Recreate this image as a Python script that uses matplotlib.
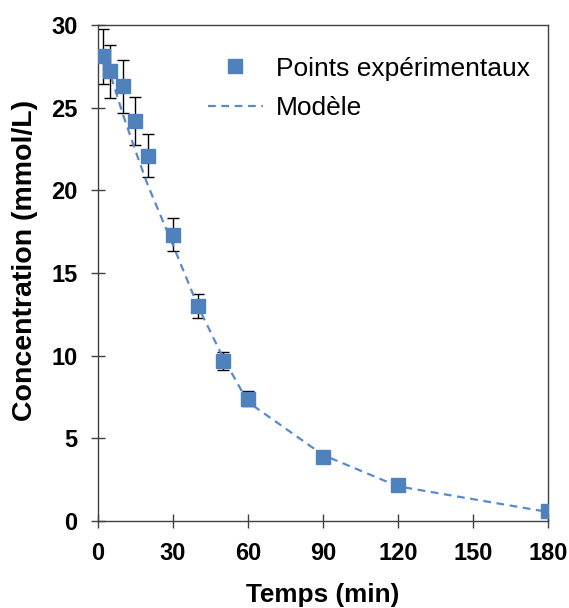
import matplotlib
matplotlib.use("Agg")
import matplotlib.pyplot as plt
import numpy as np

# temps (min) et concentrations mesurees (mmol/L)
temps = [2, 5, 10, 15, 20, 30, 40, 50, 60, 90, 120, 180]
conc = [28.1, 27.2, 26.3, 24.2, 22.1, 17.3, 13.0, 9.7, 7.4, 3.9, 2.2, 0.6]
erreur = [1.65, 1.6, 1.6, 1.45, 1.3, 1.0, 0.75, 0.55, 0.45, 0.3, 0.2, 0.1]
# valeurs du modele aux memes temps
modele = [28.4, 27.0, 24.6, 22.4, 20.3, 16.7, 13.0, 9.9, 7.2, 4.0, 2.1, 0.55]

xticks = [0, 30, 60, 90, 120, 150, 180]
yticks = [0, 5, 10, 15, 20, 25, 30]

bleu = "#4F81BD"
plt.rcParams["font.family"] = ["Liberation Sans", "DejaVu Sans"]

fig = plt.figure(figsize=(5.69, 6.08), dpi=100)
ax = fig.add_axes([0.172, 0.143, 0.791, 0.816])

#========================================================================================
ax.errorbar(temps, conc, yerr=erreur, fmt="none", ecolor="black",
            elinewidth=1.0, capsize=4.0, capthick=1.0, zorder=2)
ax.plot(temps, modele, linestyle=(0, (3.5, 2.5)), color="#5A8ACB",
        linewidth=1.6, label="Modèle", zorder=3)
ax.plot(temps, conc, "s", color=bleu, markersize=10, markeredgecolor=bleu,
        label="Points expérimentaux", linestyle="none", zorder=4)
#========================================================================================

ax.set_xlim(0, 180)
ax.set_ylim(0, 30)
ax.set_xticks(xticks)
ax.set_yticks(yticks)
ax.tick_params(direction="inout", length=10, width=1.0, color="#404040",
               labelsize=17)
ax.tick_params(axis="x", pad=10)
ax.tick_params(axis="y", pad=9.5)
for lab in ax.get_xticklabels() + ax.get_yticklabels():
    lab.set_fontweight("bold")
for sp in ax.spines.values():
    sp.set_color("#404040")
    sp.set_linewidth(1.0)

ax.set_xlabel("Temps (min)", fontsize=18.8, fontweight="bold", labelpad=13)
ax.set_ylabel("Concentration (mmol/L)", fontsize=20.5, fontweight="bold")
ax.yaxis.set_label_coords(-0.134, 0.525)

h, l = ax.get_legend_handles_labels()
ax.legend([h[1], h[0]], [l[1], l[0]], loc="upper left", bbox_to_anchor=(0.365, 0.907),
          bbox_transform=fig.transFigure, frameon=False, fontsize=19,
          handlelength=2.1, handletextpad=0.5, labelspacing=0.6, borderpad=0,
          borderaxespad=0)

fig.savefig("out.png", dpi=100)
